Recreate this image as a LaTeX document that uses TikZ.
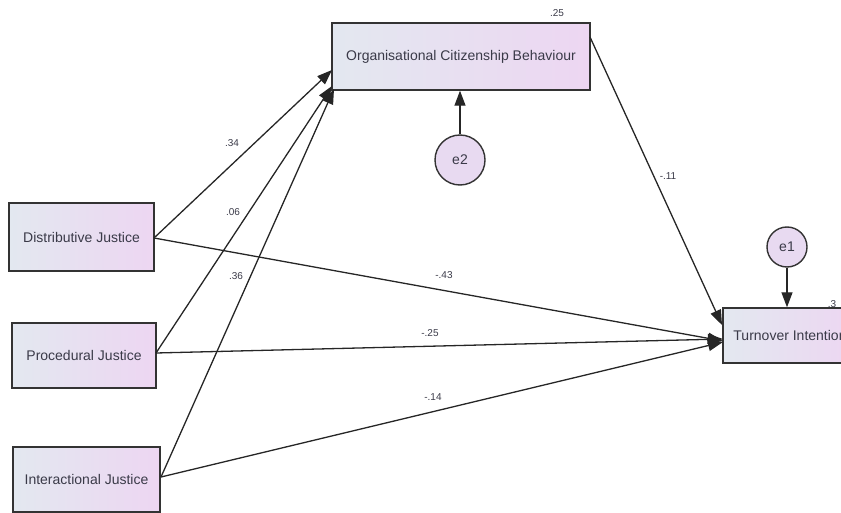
\documentclass[tikz,border=0pt]{standalone}
\usepackage{fontspec}
\setmainfont{Liberation Sans}
\usetikzlibrary{arrows.meta}
\definecolor{boxleft}{HTML}{E3E8F0}
\definecolor{boxright}{HTML}{EDD6F2}
\definecolor{circfill}{HTML}{E8DAF1}
\definecolor{edgec}{HTML}{333333}
\definecolor{txtc}{HTML}{3A3A48}
\tikzset{
  varbox/.style={draw=edgec, line width=1.4pt, left color=boxleft, right color=boxright,
    minimum width=#1, inner sep=0pt, font=\fontsize{14}{16}\selectfont, text=txtc},
  errc/.style={draw=edgec, line width=1.4pt, circle, fill=circfill, inner sep=0pt,
    font=\fontsize{14}{16}\selectfont, text=txtc},
  path/.style={draw=black!85, line width=1.3pt, -{Triangle[length=15pt,width=11pt]}},
  coef/.style={font=\fontsize{10}{12}\selectfont, text=txtc, inner sep=1pt}
}
\begin{document}
\begin{tikzpicture}[x=1pt,y=-1pt]
\useasboundingbox (0,0) rectangle (841,513);
\clip (0,0) rectangle (841,513);
% boxes
\node[varbox=258pt, minimum height=67pt] (ocb) at (461,56.5) {Organisational Citizenship Behaviour};
\node[varbox=145pt, minimum height=68pt] (dj) at (81.5,237) {Distributive Justice};
\node[varbox=144pt, minimum height=65pt] (pj) at (84,355.5) {Procedural Justice};
\node[varbox=147pt, minimum height=65pt] (ij) at (86.5,479.5) {Interactional Justice};
\node[varbox=134pt, minimum height=55pt] (ti) at (790,335.5) {Turnover Intention};
\node[errc, minimum size=50pt] (e2) at (460,160) {e2};
\node[errc, minimum size=40pt] (e1) at (787,247) {e1};
% r-square labels
\node[coef] (r1) at (557,13) {.25};
\node[coef] (r2) at (832,304) {.3};
% connector end points
\coordinate (djout) at (154,238);
\coordinate (pjout) at (156,353);
\coordinate (ijout) at (161,477);
\coordinate (ocbin1) at (332,70);
\coordinate (ocbin2) at (332,86);
\coordinate (ocbin3) at (334,89);
\coordinate (ocbout) at (590,37);
\coordinate (tiin0) at (722,325);
\coordinate (tiin1) at (723,341);
\coordinate (tiin2) at (723,339);
\coordinate (tiin3) at (723,342);
% paths
\draw[path] (djout) -- (ocbin1);
\draw[path] (pjout) -- (ocbin2);
\draw[path] (ijout) -- (ocbin3);
\draw[path] (djout) -- (tiin1);
\draw[path] (pjout) -- (tiin2);
\draw[path] (ijout) -- (tiin3);
\draw[path] (ocbout) -- (tiin0);
\draw[path] (e2) -- (e2 |- ocb.south);
\draw[path] (e1) -- (e1 |- ti.north);
% coefficients
\node[coef] (c1) at (232,143) {.34};
\node[coef] (c2) at (233,212) {.06};
\node[coef] (c3) at (236,276) {.36};
\node[coef] (c4) at (444,275) {-.43};
\node[coef] (c5) at (430,333) {-.25};
\node[coef] (c6) at (433,397) {-.14};
\node[coef] (c7) at (668,176) {-.11};
\end{tikzpicture}
\end{document}
